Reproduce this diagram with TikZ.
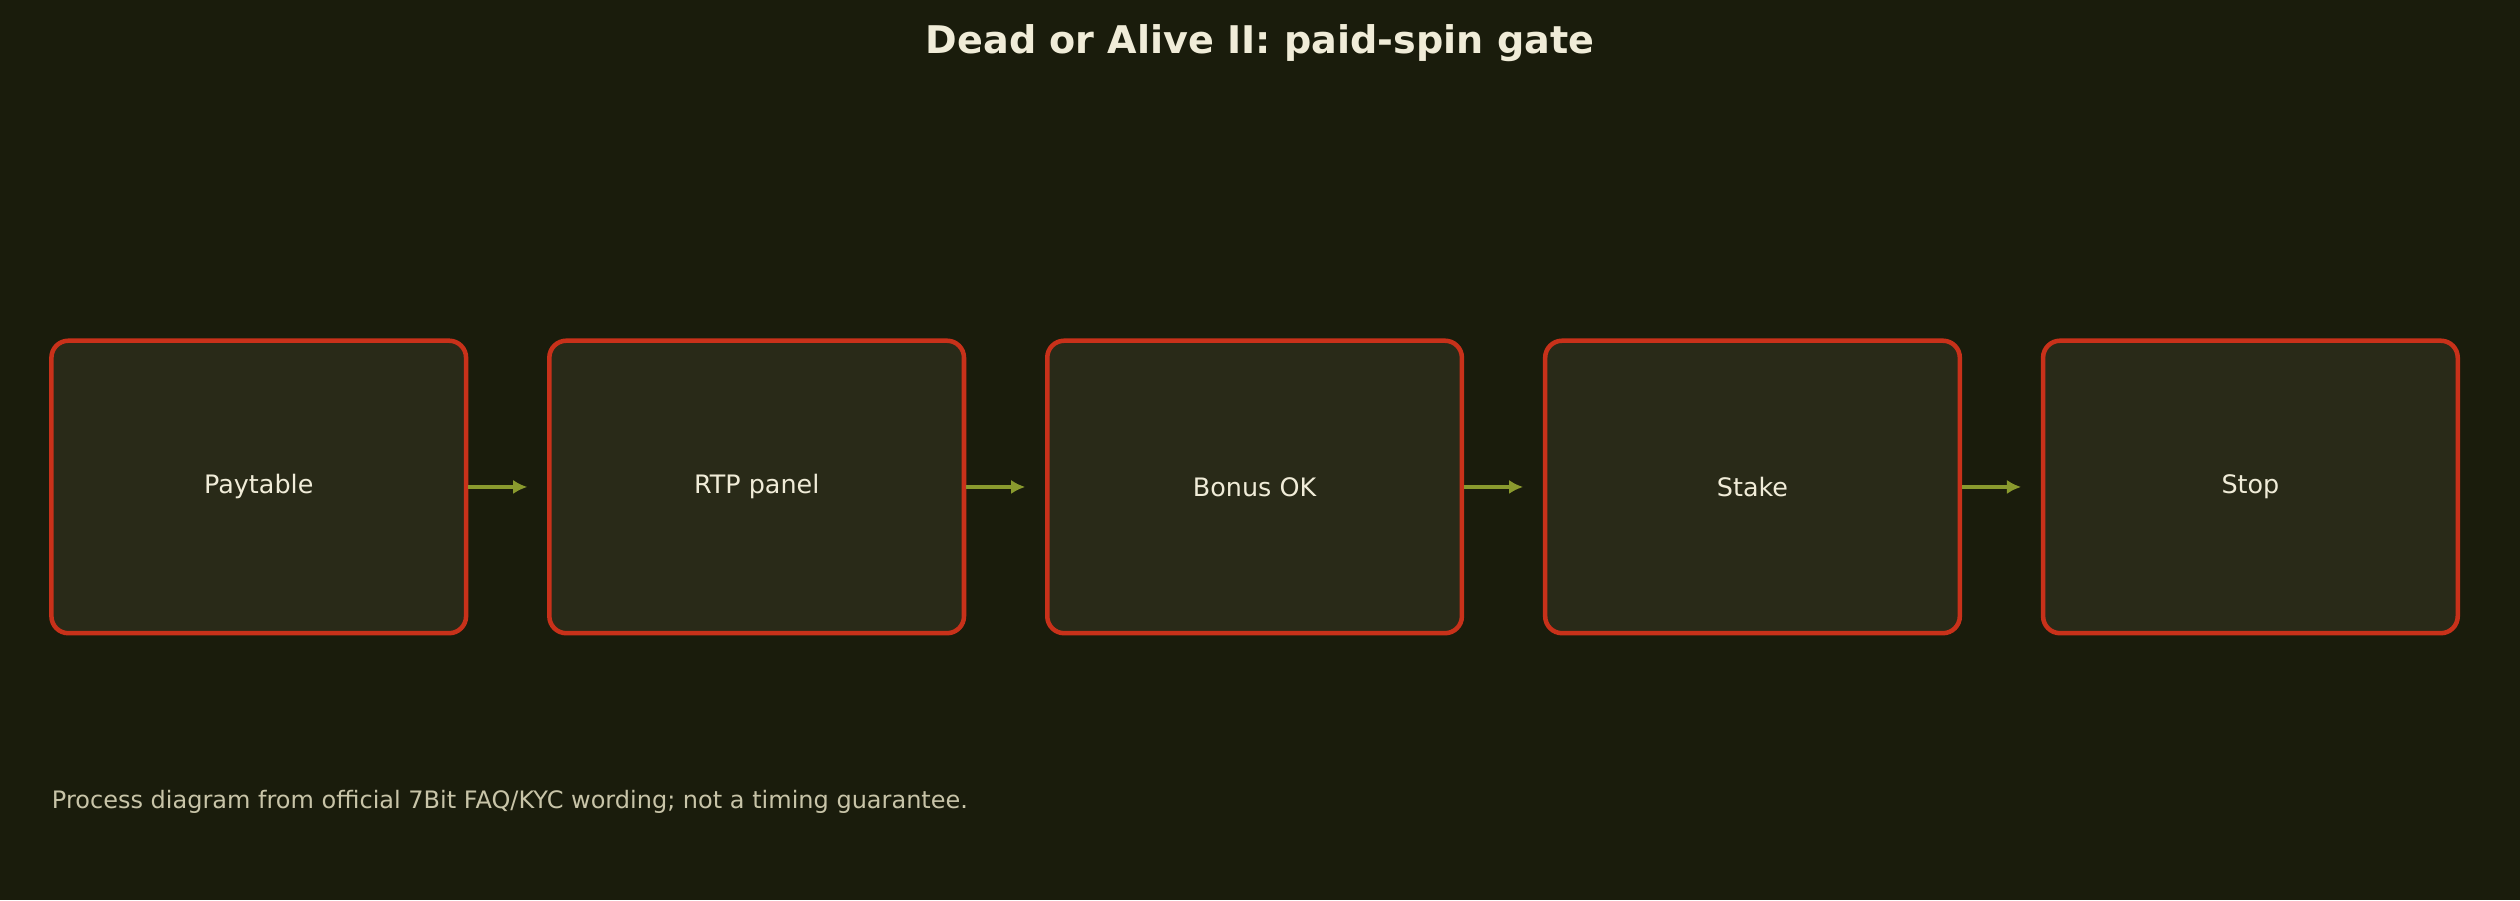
\documentclass[tikz,border=0pt]{standalone}
\usepackage{fontspec}
\setmainfont{DejaVu Sans}
\usetikzlibrary{positioning,arrows.meta}
\definecolor{bgcol}{HTML}{1A1C0C}
\definecolor{boxfill}{HTML}{292A18}
\definecolor{boxline}{HTML}{C8311A}
\definecolor{arrowcol}{HTML}{8A9A2E}
\definecolor{txtcol}{HTML}{F0ECD8}
\definecolor{notecol}{HTML}{C8C4A8}
\tikzset{
  gatebox/.style={draw=boxline, line width=1.6pt, fill=boxfill, rounded corners=6pt,
    minimum width=5.16cm, minimum height=3.64cm, text=txtcol, font=\fontsize{9}{11}\selectfont},
  flow/.style={draw=arrowcol, line width=1.6pt, -{Latex[length=5pt,width=5pt]}, shorten >=7pt}
}
\begin{document}
\begin{tikzpicture}
    \fill[bgcol] (0,0) rectangle (31.36,11.2);
    \useasboundingbox (0,0) rectangle (31.36,11.2);
    % title
    \node[text=txtcol, font=\bfseries\fontsize{13.5}{16}\selectfont] (title) at (15.68,10.66) {Dead or Alive II: paid-spin gate};
    % steps
    \node[gatebox] (pay) at (3.22,5.14) {Paytable};
    \node[gatebox, right=0.98cm of pay] (rtp) {RTP panel};
    \node[gatebox, right=0.98cm of rtp] (bonus) {Bonus OK};
    \node[gatebox, right=0.98cm of bonus] (stake) {Stake};
    \node[gatebox, right=0.98cm of stake] (stop) {Stop};

    \draw[flow] (pay) -- (rtp);
    \draw[flow] (rtp) -- (bonus);
    \draw[flow] (bonus) -- (stake);
    \draw[flow] (stake) -- (stop);

    \node[anchor=west, inner sep=0pt, text=notecol, font=\fontsize{8.5}{10}\selectfont] (note) at (0.64,1.22)
        {Process diagram from official 7Bit FAQ/KYC wording; not a timing guarantee.};
\end{tikzpicture}
\end{document}
